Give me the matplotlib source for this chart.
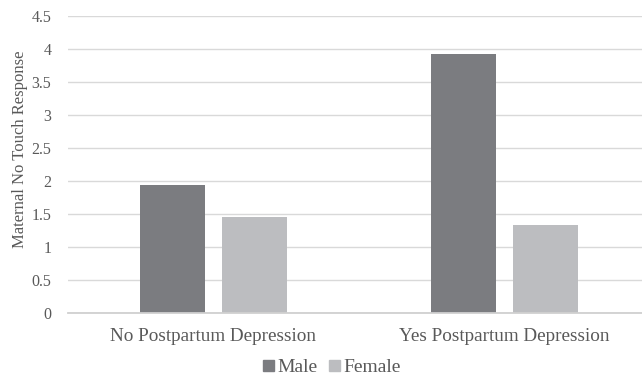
import numpy as np
import matplotlib.pyplot as plt
from matplotlib.patches import Patch

categories = ["No Postpartum Depression", "Yes Postpartum Depression"]
male = [1.94, 3.93]
female = [1.45, 1.34]
yticks = [0, 0.5, 1, 1.5, 2, 2.5, 3, 3.5, 4, 4.5]

plt.rcParams['font.family'] = ['Liberation Serif', 'DejaVu Serif']
text_col = "#595959"
male_col = "#7b7c80"
female_col = "#bcbdc0"

fig = plt.figure(figsize=(6.42, 3.77), dpi=100)
# axes spans left 68px to ~650px (right edge clipped by figure)
ax = fig.add_axes([68 / 642, 1 - 313 / 377, 582 / 642, (313 - 16) / 377])

x = np.arange(len(categories))
w = 0.223
off = 0.142
ax.bar(x - off, male, w, color=male_col, label="Male", zorder=3)
ax.bar(x + off, female, w, color=female_col, label="Female", zorder=3)

ax.set_xlim(-0.5, 1.5)
ax.set_ylim(0, 4.5)
ax.set_yticks(yticks)
ax.set_yticklabels([f"{t:g}" for t in yticks])
ax.set_xticks(x)
ax.set_xticklabels(categories, fontsize=13.8)

ax.yaxis.grid(True, color="#d9d9d9", linewidth=1, zorder=0)
ax.set_axisbelow(True)
for s in ["top", "right", "left"]:
    ax.spines[s].set_visible(False)
ax.spines["bottom"].set_color("#d0d0d0")
ax.spines["bottom"].set_linewidth(1.3)
ax.spines["bottom"].set_zorder(4)

ax.tick_params(axis="both", length=0, colors=text_col)
ax.tick_params(axis="y", pad=12, labelsize=11.5)
ax.tick_params(axis="x", pad=11)
ax.set_ylabel("Maternal No Touch Response", color=text_col, fontsize=12)
ax.yaxis.set_label_coords(-40 / 582, 0.55)

handles = [Patch(color=male_col, label="Male"), Patch(color=female_col, label="Female")]
fig.legend(handles=handles, loc="center", bbox_to_anchor=(332 / 642, 1 - 368 / 377),
           ncol=2, frameon=False, fontsize=14, labelcolor=text_col,
           handlelength=0.55, handleheight=0.55, handletextpad=0.2, columnspacing=0.6,
           borderpad=0.1)

fig.savefig("out.png", dpi=100)
